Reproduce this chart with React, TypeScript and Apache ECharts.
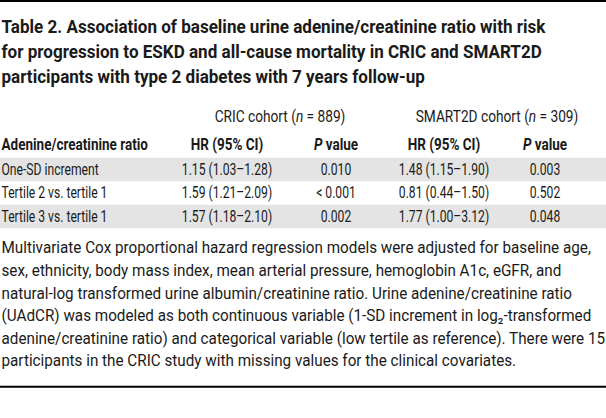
import React, { useEffect, useRef } from "react";
import * as echarts from "echarts";

const titleLines = [
  "Table 2. Association of baseline urine adenine/creatinine ratio with risk",
  "for progression to ESKD and all-cause mortality in CRIC and SMART2D",
  "participants with type 2 diabetes with 7 years follow-up",
];
const cohortNames = ["CRIC cohort", "SMART2D cohort"];
const cohortN = ["889", "309"];
const columnHeaders = ["Adenine/creatinine ratio", "HR (95% CI)", "P value", "HR (95% CI)", "P value"];
const rowLabels = ["One-SD increment", "Tertile 2 vs. tertile 1", "Tertile 3 vs. tertile 1"];
const cricHR = ["1.15 (1.03–1.28)", "1.59 (1.21–2.09)", "1.57 (1.18–2.10)"];
const cricP = ["0.010", "< 0.001", "0.002"];
const smartHR = ["1.48 (1.15–1.90)", "0.81 (0.44–1.50)", "1.77 (1.00–3.12)"];
const smartP = ["0.003", "0.502", "0.048"];
const footnoteLines = [
  "Multivariate Cox proportional hazard regression models were adjusted for baseline age,",
  "sex, ethnicity, body mass index, mean arterial pressure, hemoglobin A1c, eGFR, and",
  "natural-log transformed urine albumin/creatinine ratio. Urine adenine/creatinine ratio",
  "(UAdCR) was modeled as both continuous variable (1-SD increment in log₂-transformed",
  "adenine/creatinine ratio) and categorical variable (low tertile as reference). There were 15",
  "participants in the CRIC study with missing values for the clinical covariates.",
];

const W = 606;
const H = 418;
const FAMILY = "Roboto";
const INK = "#1a1a1a";
const BAND = "#e4e4e4";

function measure(ctx: CanvasRenderingContext2D, text: string, font: string) {
  ctx.font = font;
  return ctx.measureText(text).width;
}

export default function App() {
  const ref = useRef<HTMLDivElement>(null);
  useEffect(() => {
    if (!ref.current) return;
    const chart = echarts.init(ref.current, undefined, { renderer: "svg" });
    const ctx = document.createElement("canvas").getContext("2d") as CanvasRenderingContext2D;

    const titleSize = 18.5;
    const bodySize = 16.5;
    const footSize = 16.5;
    const titleFont = `bold ${titleSize}px ${FAMILY}`;
    const headFont = `bold ${bodySize}px ${FAMILY}`;
    const bodyFont = `${bodySize}px ${FAMILY}`;
    const footFont = `${footSize}px ${FAMILY}`;

    const sTitle = 544 / measure(ctx, titleLines[0], titleFont);
    const sHead = 146.5 / measure(ctx, columnHeaders[0], headFont);
    const sBody = 106 / measure(ctx, rowLabels[1], bodyFont);
    const sCohort = 131 / measure(ctx, `${cohortNames[0]} (n = ${cohortN[0]})`, bodyFont);
    const sFoot = 590 / measure(ctx, footnoteLines[0], footFont);

    const left = 1.5;
    const colX = [227, 336, 444, 545];
    const cohortX = [280, 497];
    const titleY = [26.5, 51.5, 76];
    const cohortY = 117;
    const headY = 145;
    const rowY = [169.5, 193, 216.5];
    const rowH = 23.5;
    const footY = [247.7, 270.3, 293, 315.5, 338, 360.7];

    const italicRich = (size: number, weight: string) => ({
      i: { fontStyle: "italic", fontSize: size, fontFamily: FAMILY, fontWeight: weight, fill: INK },
      r: { fontStyle: "normal", fontSize: size, fontFamily: FAMILY, fontWeight: weight, fill: INK },
    });

    const txt = (
      text: string,
      x: number,
      y: number,
      size: number,
      weight: string,
      scale: number,
      align: string,
      rich?: any
    ) => ({
      type: "text",
      x,
      y,
      scaleX: scale,
      style: {
        text,
        fill: INK,
        fontSize: size,
        fontFamily: FAMILY,
        fontWeight: weight,
        align,
        verticalAlign: "middle",
        rich,
      },
    });

    const elements: any[] = [];
    elements.push({ type: "rect", shape: { x: 0, y: 0, width: W, height: 2 }, style: { fill: "#000" } });
    elements.push({ type: "rect", shape: { x: 0, y: 385.7, width: W, height: 2 }, style: { fill: "#000" } });
    rowY.forEach((y, i) => {
      if (i % 2 === 0) {
        elements.push({
          type: "rect",
          shape: { x: 0, y: y - rowH / 2, width: W, height: rowH },
          style: { fill: BAND },
        });
      }
    });
    titleLines.forEach((t, i) => elements.push(txt(t, left, titleY[i], titleSize, "bold", sTitle, "left")));
    cohortNames.forEach((c, i) =>
      elements.push(
        txt(`{r|${c} (}{i|n}{r| = ${cohortN[i]})}`, cohortX[i], cohortY, bodySize, "normal", sCohort, "center", italicRich(bodySize, "normal"))
      )
    );
    elements.push(txt(columnHeaders[0], left, headY, bodySize, "bold", sHead, "left"));
    columnHeaders.slice(1).forEach((h, i) => {
      if (h.startsWith("P ")) {
        elements.push(
          txt(`{i|P}{r|${h.slice(1)}}`, colX[i], headY, bodySize, "bold", sHead, "center", italicRich(bodySize, "bold"))
        );
      } else {
        elements.push(txt(h, colX[i], headY, bodySize, "bold", sHead, "center"));
      }
    });
    rowLabels.forEach((lab, r) => {
      const y = rowY[r];
      elements.push(txt(lab, left, y, bodySize, "normal", sBody, "left"));
      [cricHR[r], cricP[r], smartHR[r], smartP[r]].forEach((v, c) =>
        elements.push(txt(v, colX[c], y, bodySize, "normal", sBody, "center"))
      );
    });
    footnoteLines.forEach((t, i) => elements.push(txt(t, left, footY[i], footSize, "normal", sFoot, "left")));

    chart.setOption({
      animation: false,
      backgroundColor: "#ffffff",
      graphic: { elements },
    });
    return () => chart.dispose();
  }, []);
  return <div ref={ref} style={{ position: "fixed", left: 0, top: 0, width: W, height: H }} />;
}
